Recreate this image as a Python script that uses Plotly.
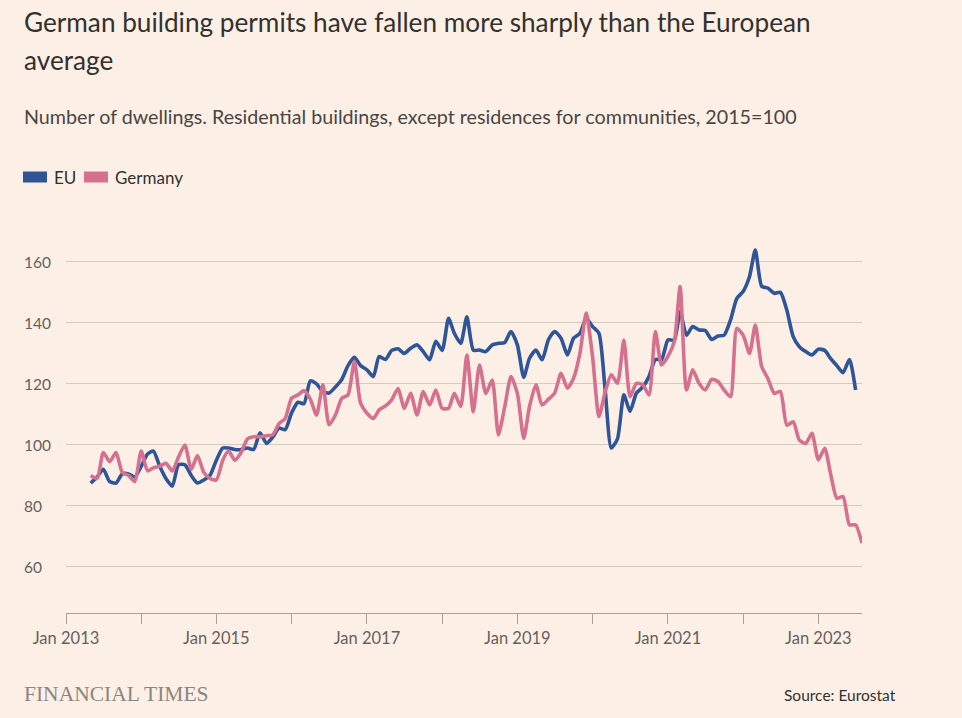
import pandas as pd
import plotly.graph_objects as go

# ---- data (index, 2015=100), monthly from May 2013 ----
eu_start = "2013-05-01"
eu_values = [
    87.5, 89.5, 92, 88, 87.5, 90.5, 90.5, 89.5, 93, 97, 98, 93, 89, 86.5, 93.5, 93.5,
    90, 87.5, 88.5, 90, 95, 99, 99, 98.5, 98.5, 99, 98.5, 104, 100.5, 102.5, 105.5, 105,
    110.5, 114, 113.5, 121, 120, 117.5, 117, 119, 121.5, 126, 128.7, 126, 124.6, 122.4, 129, 128,
    131, 131.5, 130, 131.7, 132.8, 130.6, 127.9, 134, 131, 141.5, 136.6, 133.3, 142, 131.1,
    131.1, 130.6, 132.8, 133.3, 133.6, 137.2, 132.8, 122.2, 128.4, 131.1, 127.9, 134.5, 137.2, 135,
    129.5, 135, 136.6, 141.5, 138.8, 136.6, 119, 99, 102, 116.4, 111, 117, 119, 122.4,
    128, 128, 134.4, 134.4, 143.7, 136, 138.8, 137.7, 137.5, 134.6, 135.7, 136, 141, 148,
    150.3, 155.2, 163.9, 152, 151.4, 149.7, 150, 144.2, 135.5, 132.2, 130.6, 129.5, 131.4, 131,
    128.4, 126, 123.7, 128, 118,
]
de_start = "2013-05-01"
de_values = [
    90, 89, 97.5, 94.5, 97.5, 91, 90, 88, 98, 91.5, 92.5, 93, 94, 91.5, 96, 100,
    92, 96.5, 91, 89, 88.5, 95, 98, 95, 97.5, 102, 102.7, 102.7, 103, 103.3, 107, 108.7,
    115.3, 116.4, 117.8, 115, 109.8, 119.7, 106.6, 109.8, 115.3, 116.4, 127.3, 113.7, 110.4, 108.7, 111.5, 112.8,
    114.8, 118.5, 112, 116.9, 109.8, 117.5, 113.1, 118, 112, 112, 116.9, 112.6, 129.5, 110.9,
    126.2, 116.9, 121.3, 103.3, 112.6, 122.4, 116.9, 102.2, 112.6, 119.7, 113.1, 115, 117, 123.5,
    118.6, 121.9, 130.1, 143.2, 129, 109.3, 117, 123, 120.2, 134.4, 115.8, 120.2, 119.7, 116.4,
    137.2, 126.2, 129, 133.9, 151.9, 118, 124.6, 120.2, 118, 121.5, 120.8, 118, 115.8, 138.2,
    136, 130, 139.3, 125.7, 121.8, 116.9, 117.5, 106.5, 107.6, 101.6, 100.5, 103.8, 95.1, 98.9,
    90.7, 82.5, 83.1, 73.8, 73.8, 67.8,
]
series_names = ["EU", "Germany"]
y_ticks = [60, 80, 100, 120, 140, 160]
x_tick_years = list(range(2013, 2024))

eu_dates = pd.date_range(eu_start, periods=len(eu_values), freq="MS")
de_dates = pd.date_range(de_start, periods=len(de_values), freq="MS")

# ---- styling ----
W, H = 962, 718
L, R, T, B = 66, 862, 225, 613
BG = "#FCF0E6"
EU_COL = "#2F5597"
DE_COL = "#D5708F"
TXT = "#33302E"
TICK_TXT = "#66605C"
GRID = "#D3CBC1"
FONT = "Lato"


def px_x(px):
    return (px - L) / (R - L)


def px_y(py):
    return (B - py) / (B - T)


fig = go.Figure()
fig.add_trace(go.Scatter(x=eu_dates, y=eu_values, name=series_names[0], mode="lines",
                         line=dict(color=EU_COL, width=3.6, shape="spline", smoothing=0.6),
                         showlegend=False))
fig.add_trace(go.Scatter(x=de_dates, y=de_values, name=series_names[1], mode="lines",
                         line=dict(color=DE_COL, width=3.6, shape="spline", smoothing=0.6),
                         showlegend=False))

tickvals = [f"{y}-01-01" for y in x_tick_years]
ticktext = [f"Jan {y}" if (y - 2013) % 2 == 0 else "" for y in x_tick_years]

fig.update_layout(
    width=W, height=H,
    margin=dict(l=L, r=W - R, t=T, b=H - B, pad=0),
    paper_bgcolor=BG, plot_bgcolor=BG,
    font=dict(family=FONT, color=TXT),
    xaxis=dict(
        range=["2013-01-01", "2023-08-01"],
        tickmode="array", tickvals=tickvals, ticktext=ticktext,
        ticks="outside", ticklen=10, tickcolor="#A7A09B", tickwidth=1,
        showline=True, linecolor="#A7A09B", linewidth=1,
        showgrid=False, zeroline=False,
        tickfont=dict(family=FONT, size=16.5, color=TICK_TXT),
    ),
    yaxis=dict(
        range=[44.9, 172.1],
        tickmode="array", tickvals=y_ticks,
        showticklabels=False,
        showgrid=True, gridcolor=GRID, gridwidth=1,
        zeroline=False, showline=False,
    ),
)

annotations = []
# y tick labels (left aligned)
for v in y_ticks:
    annotations.append(dict(x=px_x(23), xref="paper", y=v, yref="y", text=str(v),
                            showarrow=False, xanchor="left", yanchor="middle", borderpad=0,
                            font=dict(family=FONT, size=15.5, color=TICK_TXT)))
# title
annotations.append(dict(x=px_x(22), xref="paper", y=px_y(22), yref="paper",
                        text="German building permits have fallen more sharply than the European",
                        showarrow=False, xanchor="left", yanchor="middle",
                        font=dict(family=FONT, size=26.2, color=TXT)))
annotations.append(dict(x=px_x(22), xref="paper", y=px_y(60), yref="paper",
                        text="average", showarrow=False, xanchor="left", yanchor="middle",
                        font=dict(family=FONT, size=26.2, color=TXT)))
# subtitle
annotations.append(dict(x=px_x(22), xref="paper", y=px_y(116), yref="paper",
                        text="Number of dwellings. Residential buildings, except residences for communities, 2015=100",
                        showarrow=False, xanchor="left", yanchor="middle",
                        font=dict(family=FONT, size=19.7, color="#4A4542")))
# legend
shapes = []
leg = [(23, 47, 52, series_names[0], EU_COL), (84, 108, 113, series_names[1], DE_COL)]
for x0, x1, tx, name, col in leg:
    shapes.append(dict(type="rect", xref="paper", yref="paper",
                       x0=px_x(x0), x1=px_x(x1), y0=px_y(182.5), y1=px_y(171.5),
                       fillcolor=col, line=dict(width=0)))
    annotations.append(dict(x=px_x(tx), xref="paper", y=px_y(177), yref="paper", text=name,
                            showarrow=False, xanchor="left", yanchor="middle",
                            font=dict(family=FONT, size=17, color=TXT)))
# footer
annotations.append(dict(x=px_x(22), xref="paper", y=px_y(694), yref="paper",
                        text="FINANCIAL TIMES", showarrow=False, xanchor="left", yanchor="middle",
                        font=dict(family="Liberation Serif", size=21.5, color="#8C8580")))
annotations.append(dict(x=px_x(898), xref="paper", y=px_y(695), yref="paper",
                        text="Source: Eurostat", showarrow=False, xanchor="right", yanchor="middle",
                        font=dict(family=FONT, size=15.5, color=TXT)))

fig.update_layout(annotations=annotations, shapes=shapes)
fig.write_html(
    "out.html",
    config={"displayModeBar": False},
    post_script=(
        "document.body.style.margin='0';"
        "document.body.style.padding='0';"
        f"document.body.style.background='{BG}';"
        "document.documentElement.style.overflow='hidden';"
    ),
)
